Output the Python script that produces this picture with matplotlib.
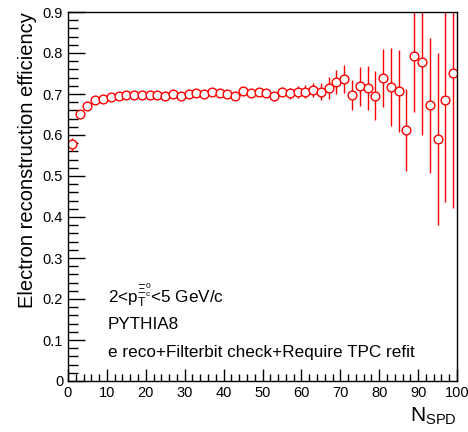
import numpy as np
import matplotlib
matplotlib.use('Agg')
from matplotlib import pyplot as plt
from matplotlib.ticker import MultipleLocator

plt.rcParams['font.family'] = ['Liberation Sans', 'DejaVu Sans']
plt.rcParams['mathtext.fontset'] = 'custom'
plt.rcParams['mathtext.rm'] = 'Liberation Sans'
plt.rcParams['mathtext.it'] = 'Liberation Sans'
plt.rcParams['mathtext.default'] = 'regular'

# bin centres (N_SPD, width 2)
nspd = list(range(1, 100, 2))
eff = [0.577, 0.651, 0.671, 0.686, 0.689, 0.692, 0.694, 0.697, 0.697, 0.697,
       0.697, 0.697, 0.696, 0.700, 0.696, 0.699, 0.702, 0.699, 0.706, 0.702,
       0.700, 0.696, 0.708, 0.702, 0.705, 0.702, 0.694, 0.706, 0.702, 0.705,
       0.706, 0.710, 0.706, 0.715, 0.729, 0.737, 0.698, 0.719, 0.715, 0.696,
       0.739, 0.717, 0.708, 0.613, 0.793, 0.777, 0.672, 0.591, 0.686, 0.751]
err = [0.015, 0.006, 0.005, 0.005, 0.005, 0.005, 0.005, 0.005, 0.005, 0.005,
       0.005, 0.006, 0.006, 0.006, 0.006, 0.006, 0.007, 0.007, 0.007, 0.008,
       0.008, 0.008, 0.009, 0.009, 0.010, 0.010, 0.011, 0.012, 0.013, 0.014,
       0.015, 0.018, 0.020, 0.026, 0.030, 0.034, 0.037, 0.048, 0.053, 0.060,
       0.070, 0.094, 0.100, 0.100, 0.136, 0.176, 0.165, 0.210, 0.250, 0.330]

fig = plt.figure(figsize=(4.68, 4.32), dpi=100)
ax = fig.add_axes([68 / 468, 1 - 381 / 432, 389 / 468, 369 / 432])

ax.errorbar(nspd, eff, yerr=err, fmt='o', color='red', ecolor='red',
            elinewidth=1.0, capsize=0, markersize=6.3, markeredgewidth=1.0,
            markerfacecolor='white', markeredgecolor='red')

ax.set_xlim(0, 100)
ax.set_ylim(0, 0.9)
ax.xaxis.set_major_locator(MultipleLocator(10))
ax.xaxis.set_minor_locator(MultipleLocator(2))
ax.yaxis.set_major_locator(MultipleLocator(0.1))
ax.yaxis.set_minor_locator(MultipleLocator(0.02))
ax.yaxis.set_major_formatter(matplotlib.ticker.FuncFormatter(lambda v, p: '%g' % round(v, 2)))

ax.tick_params(axis='both', which='both', direction='in', top=False, right=False,
               labelsize=10.5, width=1)
ax.tick_params(axis='x', which='major', length=9)
ax.tick_params(axis='x', which='minor', length=5)
ax.tick_params(axis='y', which='major', length=12)
ax.tick_params(axis='y', which='minor', length=7)
for s in ax.spines.values():
    s.set_linewidth(1)

ax.set_ylabel('Electron reconstruction efficiency', fontsize=14.5, loc='top')
ax.set_xlabel(r'N$_{\mathrm{SPD}}$', fontsize=15, loc='right')

ax.text(0.103, 0.214, r'2<p$_{T}^{\Xi_{c}^{0}}$<5 GeV/c', transform=ax.transAxes, fontsize=12.3)
ax.text(0.103, 0.141, 'PYTHIA8', transform=ax.transAxes, fontsize=12.3)
ax.text(0.103, 0.065, 'e reco+Filterbit check+Require TPC refit', transform=ax.transAxes, fontsize=12.3)

fig.savefig('out.png', dpi=100)
